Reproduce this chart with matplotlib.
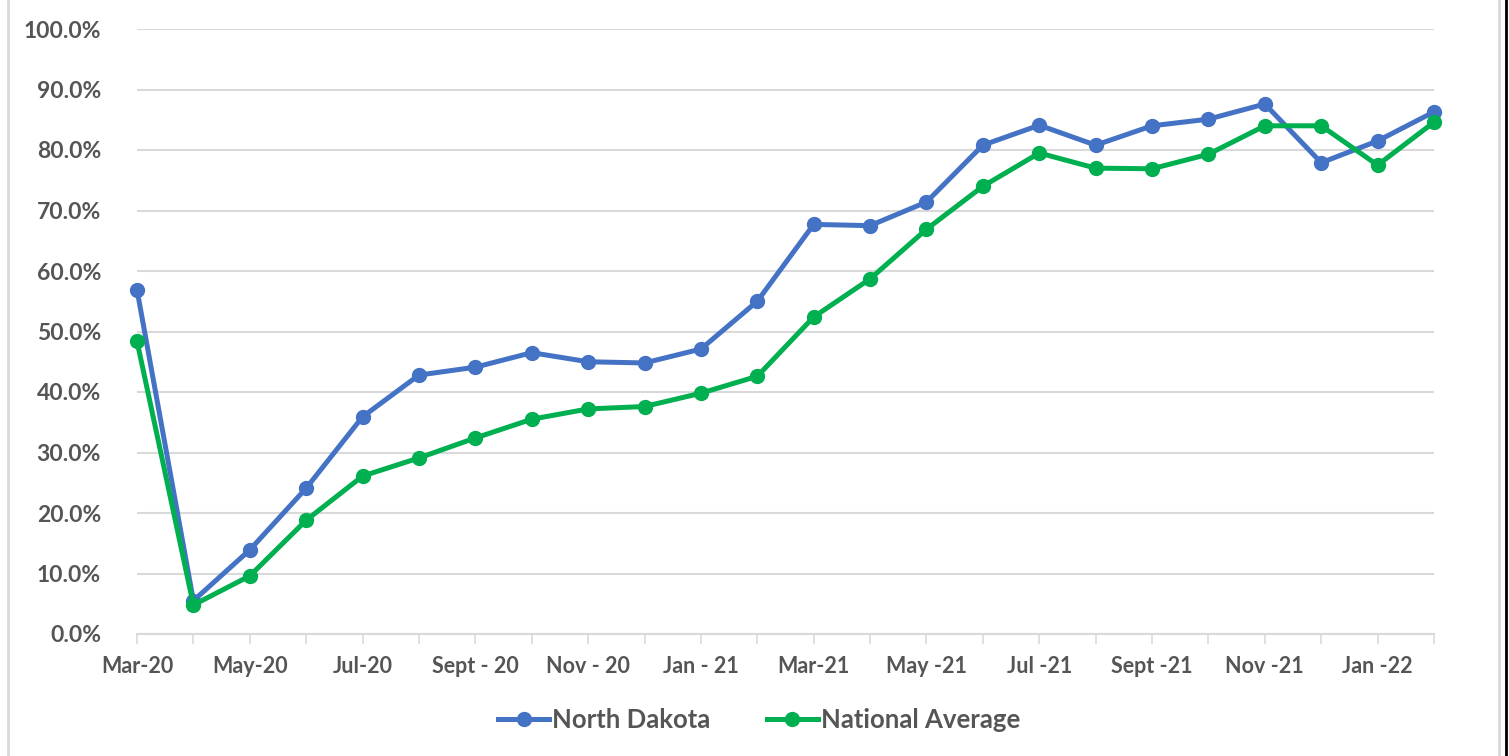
import numpy as np
import matplotlib.pyplot as plt
from matplotlib.lines import Line2D
from matplotlib.ticker import FuncFormatter

months = ["Mar-20", "Apr-20", "May-20", "Jun-20", "Jul-20", "Aug-20", "Sep-20", "Oct-20",
          "Nov-20", "Dec-20", "Jan-21", "Feb-21", "Mar-21", "Apr-21", "May-21", "Jun-21",
          "Jul-21", "Aug-21", "Sep-21", "Oct-21", "Nov-21", "Dec-21", "Jan-22", "Feb-22"]
tick_labels = ["Mar-20", "May-20", "Jul-20", "Sept - 20", "Nov - 20", "Jan - 21",
               "Mar-21", "May -21", "Jul -21", "Sept -21", "Nov -21", "Jan -22"]
north_dakota = [56.9, 5.5, 13.9, 24.1, 35.9, 42.8, 44.1, 46.5, 45.0, 44.8, 47.1, 55.0,
                67.7, 67.5, 71.4, 80.8, 84.1, 80.8, 84.0, 85.1, 87.6, 77.9, 81.5, 86.3]
national_avg = [48.4, 4.8, 9.6, 18.8, 26.1, 29.1, 32.4, 35.5, 37.2, 37.6, 39.8, 42.6,
                52.4, 58.7, 66.9, 74.0, 79.5, 77.0, 76.9, 79.3, 84.0, 84.0, 77.5, 84.6]

plt.rcParams['font.family'] = ['Lato', 'DejaVu Sans']
txt = '#555555'

fig = plt.figure(figsize=(15.09, 7.56), dpi=100)
ax = fig.add_axes([137/1509, 1 - 634/756, (1434-137)/1509, (634-29)/756])

x = np.arange(len(months))
ax.plot(x, north_dakota, color='#4472C4', lw=3.6, marker='o', ms=10, label='North Dakota',
        clip_on=False)
ax.plot(x, national_avg, color='#00B050', lw=3.6, marker='o', ms=10, label='National Average',
        clip_on=False)

ax.set_xlim(0, len(months) - 1)
ax.set_ylim(0, 100)
ax.set_yticks(np.arange(0, 101, 10))
ax.yaxis.set_major_formatter(FuncFormatter(lambda v, p: f"{v:.1f}%"))
ax.set_xticks(x, minor=True)
ax.set_xticks(x[::2])
ax.set_xticklabels(tick_labels)
ax.grid(axis='y', color='#D9D9D9', lw=1.5)
ax.set_axisbelow(True)
for s in ['top', 'right', 'left']:
    ax.spines[s].set_visible(False)
ax.spines['bottom'].set_color('#D9D9D9')
ax.spines['bottom'].set_linewidth(1.5)
ax.tick_params(axis='y', length=0, pad=26, labelsize=16.5, labelcolor=txt)
ax.tick_params(axis='x', which='both', length=7, width=1.2, color='#D9D9D9', direction='out',
               labelsize=15.5, labelcolor=txt, pad=9)
for lab in ax.get_xticklabels() + ax.get_yticklabels():
    lab.set_fontweight('bold')

leg = fig.legend(loc='center', bbox_to_anchor=(0.503, 1 - 720/756), ncol=2, frameon=False,
                 fontsize=18.5, handlelength=2.0, columnspacing=2.2, handletextpad=0.1)
for t in leg.get_texts():
    t.set_color(txt)
    t.set_fontweight('bold')

# chart frame
fig.add_artist(Line2D([8/1509, 8/1509], [0, 1], color='#D9D9D9', lw=2))
fig.add_artist(Line2D([1499/1509, 1499/1509], [0, 1], color='#D9D9D9', lw=2))
fig.add_artist(Line2D([1506/1509, 1506/1509], [0, 1], color='black', lw=2))

fig.savefig('out.png', dpi=100)
